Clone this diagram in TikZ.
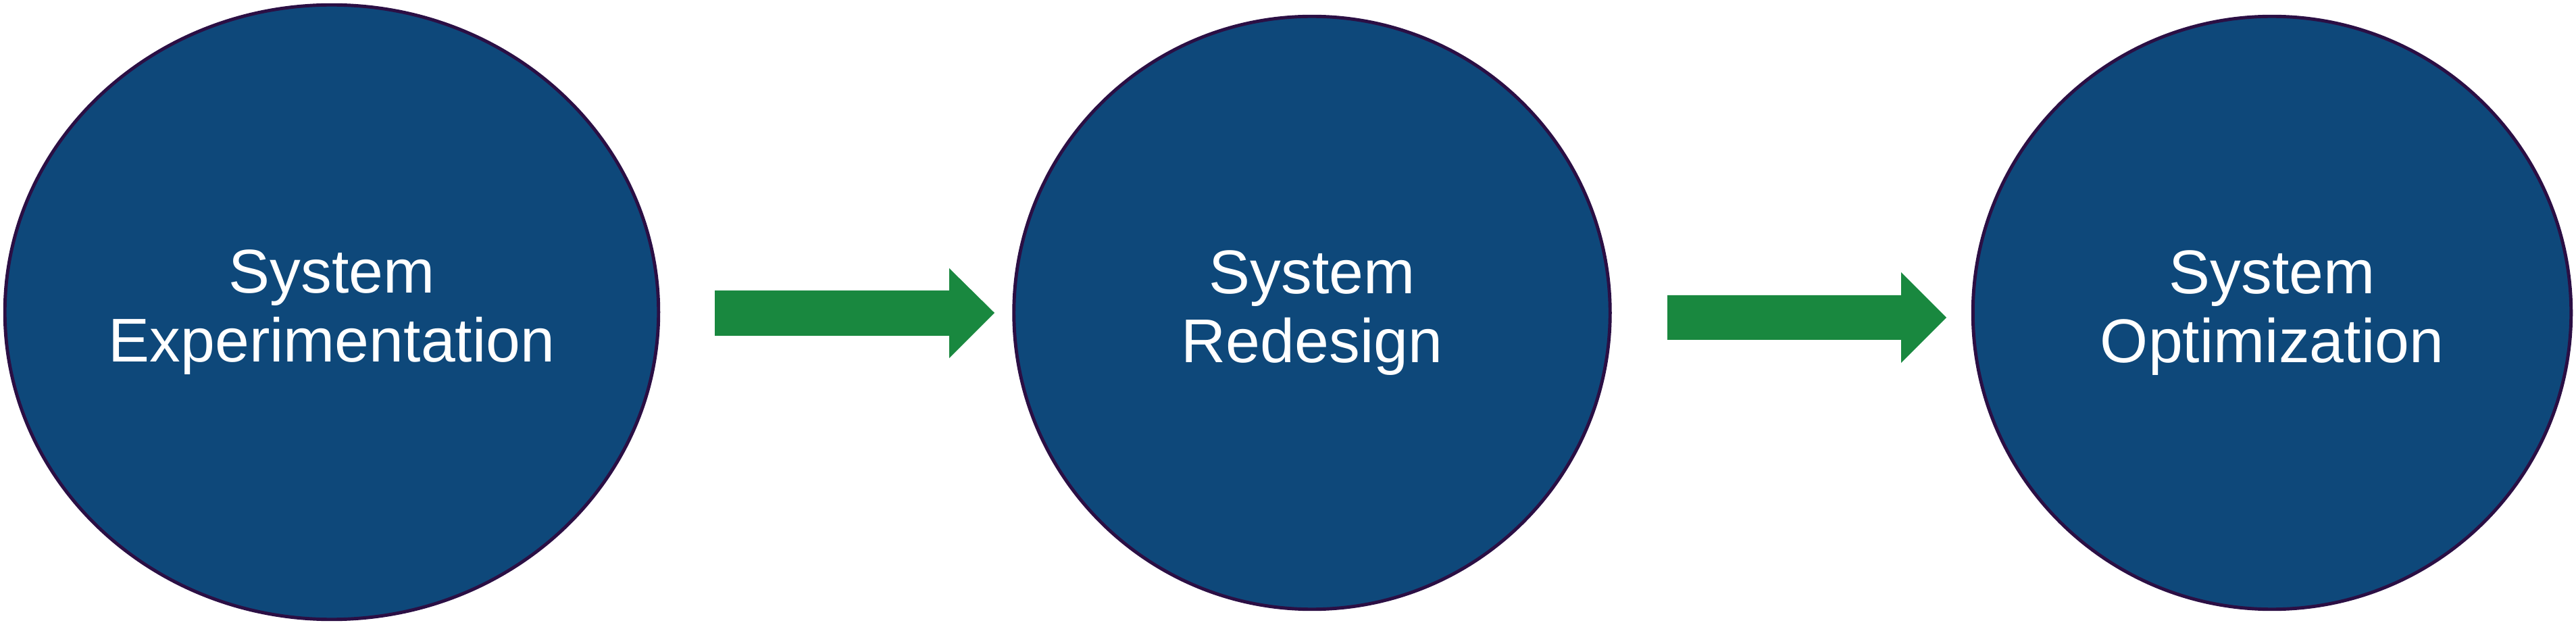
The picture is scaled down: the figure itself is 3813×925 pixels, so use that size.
\documentclass[tikz,border=0pt]{standalone}
\usepackage{fontspec}
\setmainfont{Liberation Sans}
\usepackage{tikz}
\usetikzlibrary{shapes.geometric}

\definecolor{stageblue}{HTML}{0E487A}
\definecolor{stageline}{HTML}{2B0F44}
\definecolor{flowgreen}{HTML}{19883F}

\tikzset{
  stage/.style={ellipse, fill=stageblue, draw=stageline, line width=1.4pt,
    inner sep=0pt, outer sep=0pt, align=center, text=white,
    font=\fontsize{26pt}{29.2pt}\selectfont},
  flow/.style={fill=flowgreen}
}

\begin{document}
\begin{tikzpicture}[x=0.01cm, y=-0.01cm]
\useasboundingbox (0,0) rectangle (3813,925);

\node[stage, minimum width=9.67cm, minimum height=9.09cm] (exp) at (491,462) {System\\Experimentation};
\node[stage, minimum width=8.82cm, minimum height=8.77cm] (red) at (1942,463) {System\\Redesign};
\node[stage, minimum width=8.85cm, minimum height=8.77cm] (opt) at (3363,463) {System\\Optimization};

% block arrows between the stages
\coordinate (tail1) at (1058,463);
\coordinate (tail2) at (2468,470);
\fill[flow] (tail1) ++(0,-33) -- ++(347,0) -- ++(0,-33) -- ++(67,66)
  -- ++(-67,67) -- ++(0,-33) -- ++(-347,0) -- cycle;
\fill[flow] (tail2) ++(0,-33) -- ++(346,0) -- ++(0,-34) -- ++(67,67)
  -- ++(-67,67) -- ++(0,-34) -- ++(-346,0) -- cycle;
\end{tikzpicture}
\end{document}
